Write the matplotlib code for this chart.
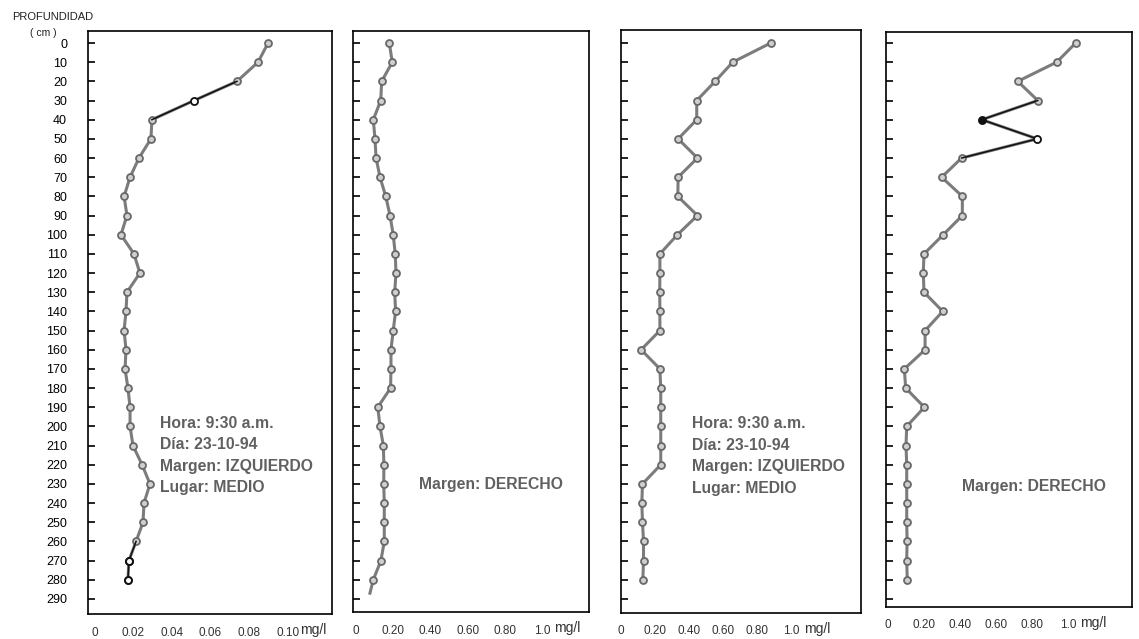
import matplotlib
matplotlib.use("Agg")
import matplotlib.pyplot as plt
import numpy as np

plt.rcParams['font.family'] = ['Liberation Sans', 'DejaVu Sans']

# ---------------- data ----------------
depth = list(range(0, 290, 10))  # 0..280 cm
depth_ticks = list(range(0, 300, 10))

izq1 = [0.0898, 0.0846, 0.0737, 0.0515, 0.0297, 0.0292, 0.0230, 0.0184, 0.0153, 0.0168,
        0.0137, 0.0204, 0.0235, 0.0168, 0.0163, 0.0153, 0.0163, 0.0158, 0.0173, 0.0184,
        0.0184, 0.0199, 0.0246, 0.0287, 0.0256, 0.0251, 0.0215, 0.0178, 0.0173]

der1 = [0.179, 0.195, 0.138, 0.133, 0.093, 0.102, 0.108, 0.129, 0.160, 0.183,
        0.200, 0.211, 0.215, 0.208, 0.213, 0.200, 0.188, 0.188, 0.186, 0.117,
        0.129, 0.147, 0.150, 0.149, 0.152, 0.152, 0.152, 0.134, 0.093]
der1_tail_depth = [280, 287]
der1_tail_val = [0.093, 0.075]

izq2 = [0.878, 0.655, 0.552, 0.444, 0.444, 0.335, 0.448, 0.335, 0.333, 0.448,
        0.331, 0.228, 0.228, 0.227, 0.228, 0.228, 0.118, 0.228, 0.233, 0.233,
        0.233, 0.233, 0.233, 0.126, 0.122, 0.126, 0.132, 0.132, 0.128]

der2 = [1.043, 0.937, 0.721, 0.832, 0.521, 0.829, 0.409, 0.298, 0.413, 0.413,
        0.307, 0.200, 0.196, 0.200, 0.304, 0.206, 0.206, 0.091, 0.098, 0.202,
        0.104, 0.100, 0.104, 0.104, 0.104, 0.104, 0.106, 0.104, 0.107]

ticks_small = [0, 0.02, 0.04, 0.06, 0.08, 0.10]
ticks_small_lbl = ["0", "0.02", "0.04", "0.06", "0.08", "0.10"]
ticks_big = [0, 0.2, 0.4, 0.6, 0.8, 1.0]
ticks_big_lbl = ["0", "0.20", "0.40", "0.60", "0.80", "1.0"]

info_izq = ["Hora: 9:30 a.m.", "Día: 23-10-94", "Margen: IZQUIERDO", "Lugar: MEDIO"]
info_der = ["Margen: DERECHO"]

# ---------------- style ----------------
W, H = 1139, 639
fig = plt.figure(figsize=(W / 100, H / 100), dpi=100)

def px_axes(x0, x1, ytop, ybot):
    return fig.add_axes([x0 / W, 1 - ybot / H, (x1 - x0) / W, (ybot - ytop) / H])

line_c = '#7c7c7c'
edge_c = '#686868'
face_c = '#cfcfcf'
text_c = '#606060'

def y_of(py):
    return (py - 43) / 1.917

def setup(ax, xlim, ytop, ybot, xt, xtl, show_ylabels=False):
    ax.set_xlim(*xlim)
    ax.set_ylim(y_of(ybot), y_of(ytop))
    ax.set_yticks(depth_ticks)
    if show_ylabels:
        ax.set_yticklabels([str(d) for d in depth_ticks])
    else:
        ax.set_yticklabels([])
    ax.tick_params(axis='y', direction='in', length=5, width=1.2, pad=15,
                   labelsize=9, colors='black')
    ax.set_xticks(xt)
    ax.set_xticklabels(xtl)
    ax.tick_params(axis='x', length=0, pad=9, labelsize=8.5, labelcolor='#333333')
    for s in ax.spines.values():
        s.set_linewidth(1.2)
        s.set_color('black')
    ax.annotate("mg/l", xy=(xt[-1], 0), xycoords=('data', 'axes fraction'),
                xytext=(9, -11.5), textcoords='offset points', ha='left', va='center',
                fontsize=10, color='#333333')

def profile(ax, vals):
    ax.plot(vals, depth, '-', color=line_c, lw=2.2, zorder=2)
    ax.plot(vals, depth, 'o', ms=5, mfc=face_c, mec=edge_c, mew=1.3, zorder=3)

def dark(ax, vals, i0, i1, filled=()):
    ax.plot(vals[i0:i1 + 1], depth[i0:i1 + 1], '-', color='#111111', lw=1.1, zorder=4)
    for i in range(i0 + 1, i1):
        fc = '#111111' if i in filled else 'white'
        ax.plot([vals[i]], [depth[i]], 'o', ms=5, mfc=fc, mec='#111111', mew=1.2, zorder=5)

def info(ax, x_px_left, x0, unit, lines, y_px_first):
    for k, t in enumerate(lines):
        ax.text((x_px_left - x0) / unit, y_of(y_px_first + k * 21.5), t, ha='left', va='center',
                fontsize=11.3, fontweight='bold', color=text_c)

# Panel 1
ax1 = px_axes(88, 332, 31, 614)
setup(ax1, ((88 - 94.5) / 1933, (332 - 94.5) / 1933), 31, 614, ticks_small, ticks_small_lbl, True)
profile(ax1, izq1)
dark(ax1, izq1, 2, 4)
dark(ax1, izq1, 26, 28)
ax1.plot([izq1[27], izq1[28]], [depth[27], depth[28]], 'o', ms=5, mfc='white', mec='#111111', mew=1.4, zorder=6)
info(ax1, 160, 94.5, 1933, info_izq, 423)

# Panel 2
ax2 = px_axes(353, 589, 31, 612)
setup(ax2, ((353 - 356) / 186, (589 - 356) / 186), 31, 612, ticks_big, ticks_big_lbl)
ax2.plot(der1_tail_val, der1_tail_depth, '-', color=line_c, lw=2.2, zorder=2)
profile(ax2, der1)
info(ax2, 419, 356, 186, info_der, 485)

# Panel 3
ax3 = px_axes(621, 861, 30, 613)
setup(ax3, ((621 - 619) / 172, (861 - 619) / 172), 30, 613, ticks_big, ticks_big_lbl)
profile(ax3, izq2)
info(ax3, 691, 619, 172, info_izq, 424)

# Panel 4
ax4 = px_axes(886, 1132, 32, 607)
setup(ax4, ((886 - 888) / 180, (1132 - 888) / 180), 32, 607, ticks_big, ticks_big_lbl)
profile(ax4, der2)
dark(ax4, der2, 3, 6, filled=(4,))
info(ax4, 962, 888, 180, info_der, 486)

fig.text(12 / W, 1 - 17 / H, "PROFUNDIDAD", ha='left', va='center', fontsize=8, color='#222222')
fig.text(43 / W, 1 - 33 / H, "( cm )", ha='center', va='center', fontsize=7.5, color='#222222')

fig.savefig("out.png", dpi=100)
